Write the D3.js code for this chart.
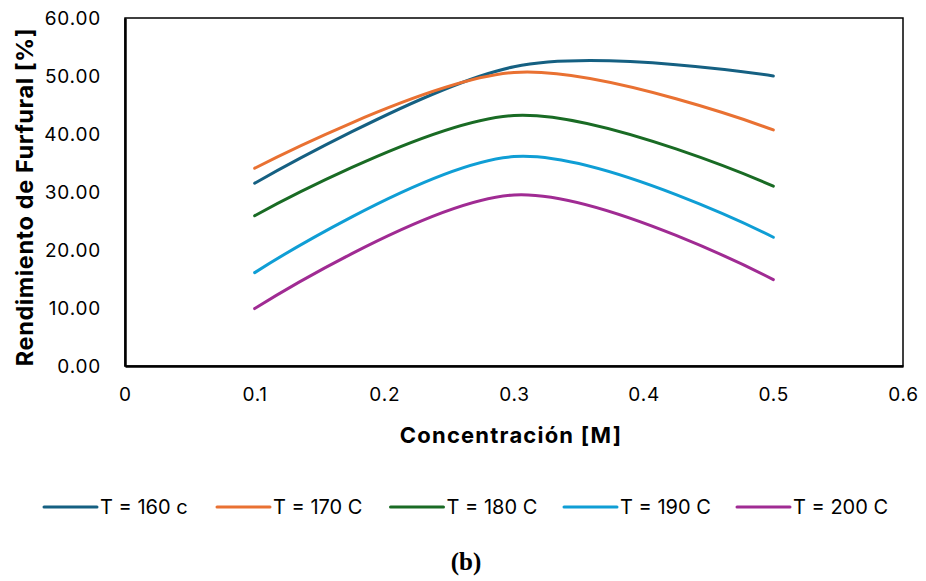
<!DOCTYPE html>
<html>
<head>
<meta charset="utf-8">
<script src="https://cdn.jsdelivr.net/npm/d3@7"></script>
<style>
  html, body { margin: 0; padding: 0; background: #fff; }
  svg { display: block; font-family: Inter, "Noto Sans", sans-serif; }
</style>
</head>
<body>
<div id="chart"></div>
<script>
// concentration levels (M) and furfural yield per temperature (%)
var concentrations = [0.1, 0.3, 0.5];
var seriesNames = ["T = 160 c", "T = 170 C", "T = 180 C", "T = 190 C", "T = 200 C"];
var yield160 = [31.5, 51.6, 50.0];
var yield170 = [34.1, 50.6, 40.7];
var yield180 = [25.9, 43.2, 31.0];
var yield190 = [16.1, 36.1, 22.2];
var yield200 = [9.9, 29.5, 14.9];
var seriesColors = ["#156082", "#E97132", "#196B24", "#0F9ED5", "#A02B93"];
var xTicks = [0, 0.1, 0.2, 0.3, 0.4, 0.5, 0.6];
var yTicks = [0, 10, 20, 30, 40, 50, 60];

var width = 926, height = 581;
var margins = {left: 125, right: 23, top: 18, bottom: 215};
var plotW = width - margins.left - margins.right,
    plotH = height - margins.top - margins.bottom;

var series = [yield160, yield170, yield180, yield190, yield200].map(function(vals, i) {
    return {
        name: seriesNames[i],
        color: seriesColors[i],
        points: vals.map(function(v, j) { return {x: concentrations[j], y: v}; })
    };
});

var svg = d3.select("#chart").append("svg")
    .attr("width", width)
    .attr("height", height);
var g = svg.append("g")
    .attr("transform", "translate(" + margins.left + "," + margins.top + ")");

var x = d3.scaleLinear().domain([0, 0.6]).range([0, plotW]);
var y = d3.scaleLinear().domain([0, 60]).range([plotH, 0]);

// plot frame
g.append("rect")
    .attr("width", plotW)
    .attr("height", plotH)
    .attr("fill", "none")
    .attr("stroke", "#000")
    .attr("stroke-width", 1.5);

// axes: labels only, no tick marks
var xAxis = g.append("g")
    .attr("transform", "translate(0," + plotH + ")")
    .call(d3.axisBottom(x).tickValues(xTicks).tickSize(0).tickPadding(22)
        .tickFormat(function(d) { return d === 0 ? "0" : d3.format(".1f")(d); }));
var yAxis = g.append("g")
    .call(d3.axisLeft(y).tickValues(yTicks).tickSize(0).tickPadding(24)
        .tickFormat(d3.format(".2f")));
[xAxis, yAxis].forEach(function(ax) {
    ax.select(".domain").attr("stroke", "#000").attr("stroke-width", 2.5);
    ax.selectAll("text")
        .attr("fill", "#000")
        .style("font-size", "19px")
        .style("letter-spacing", "0.8px")
        .style("font-family", "Inter, sans-serif");
});

// smoothed series lines
var line = d3.line()
    .x(function(d) { return x(d.x); })
    .y(function(d) { return y(d.y); })
    .curve(d3.curveCardinal.tension(0));

g.selectAll(".series")
    .data(series)
    .enter().append("path")
    .attr("class", "series")
    .attr("d", function(d) { return line(d.points); })
    .attr("fill", "none")
    .attr("stroke", function(d) { return d.color; })
    .attr("stroke-width", 3)
    .attr("stroke-linecap", "round");

// axis titles
svg.append("text")
    .attr("x", margins.left + plotW / 2 - 3)
    .attr("y", 443)
    .attr("text-anchor", "middle")
    .style("font-size", "22px")
    .style("font-weight", "bold")
    .style("letter-spacing", "1.2px")
    .text("Concentración [M]");
svg.append("text")
    .attr("transform", "translate(33,197) rotate(-90)")
    .attr("text-anchor", "middle")
    .style("font-size", "23.5px")
    .style("font-weight", "bold")
    .style("letter-spacing", "0.6px")
    .text("Rendimiento de Furfural [%]");

// legend
var legendX = [43, 216, 389.5, 563, 736];
var legend = svg.selectAll(".legend")
    .data(series)
    .enter().append("g")
    .attr("class", "legend")
    .attr("transform", function(d, i) { return "translate(" + legendX[i] + ",507)"; });
legend.append("line")
    .attr("x1", 1).attr("x2", 54)
    .attr("stroke", function(d) { return d.color; })
    .attr("stroke-width", 3)
    .attr("stroke-linecap", "round");
legend.append("text")
    .attr("x", 57)
    .attr("dy", "0.36em")
    .style("font-size", "20px")
    .text(function(d) { return d.name; });

// panel caption
svg.append("text")
    .attr("x", 466)
    .attr("y", 570)
    .attr("text-anchor", "middle")
    .style("font-family", "'Liberation Serif', serif")
    .style("font-weight", "bold")
    .style("font-size", "25px")
    .text("(b)");
</script>
</body>
</html>
